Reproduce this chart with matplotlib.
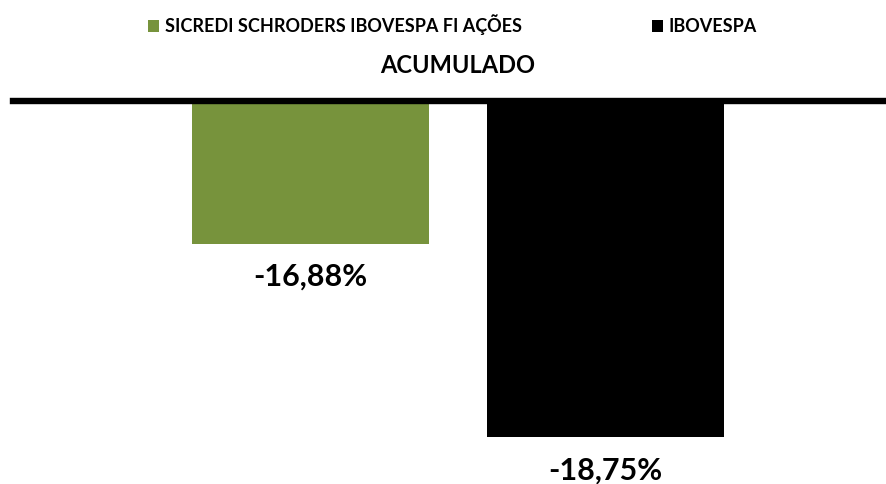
import matplotlib
matplotlib.use("Agg")
import matplotlib.pyplot as plt
from matplotlib.patches import Patch

plt.rcParams['font.family'] = ['Lato', 'DejaVu Sans']

categories = ['ACUMULADO']
series = ['SICREDI SCHRODERS IBOVESPA FI AÇÕES', 'IBOVESPA']
values = [-16.88, -18.75]
colors = ['#77933C', '#000000']

W, H = 887, 484
fig = plt.figure(figsize=(W / 100, H / 100), dpi=100)
ax = fig.add_axes([13 / W, 1 - 463 / H, 1 - 13 / W, (463 - 101) / H])

offsets = [-0.5, 0.5]
bw = 0.802
for i, (name, v, c) in enumerate(zip(series, values, colors)):
    x = 0 + offsets[i]
    ax.bar(x, v, width=bw, color=c, label=name, zorder=2)
    lbl = f"{v:.2f}".replace('.', ',') + '%'
    ax.annotate(lbl, xy=(x, v), xytext=(0, -30.4), textcoords='offset points',
                ha='center', va='baseline', fontsize=22, fontweight='bold', color='black')

ax.set_xlim(-1.507, 1.454)
ax.set_ylim(-19.0, -15.5)

for s in ['left', 'right', 'bottom']:
    ax.spines[s].set_visible(False)
ax.spines['top'].set_linewidth(4.6)
ax.spines['top'].set_color('black')
ax.spines['top'].set_zorder(5)

ax.set_yticks([])
ax.xaxis.tick_top()
ax.set_xticks([0])
ax.set_xticklabels(categories, fontsize=17, fontweight='bold')
ax.tick_params(axis='x', length=0, pad=17.5)

handles = [Patch(facecolor=c, edgecolor='none') for c in colors]
fig.legend(handles, series, loc='center left', bbox_to_anchor=(148 / W, 1 - 25 / H),
           ncol=2, frameon=False, prop={'weight': 'bold', 'size': 13},
           handlelength=0.61, handleheight=0.61, handletextpad=0.33,
           columnspacing=7.2, borderpad=0, borderaxespad=0)

fig.savefig('out.png', dpi=100)
